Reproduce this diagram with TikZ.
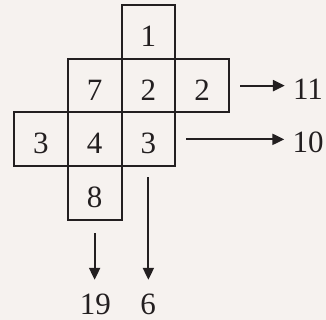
\documentclass[tikz,border=0pt]{standalone}
\usepackage{fontspec}
\setmainfont{Liberation Serif}
\usetikzlibrary{arrows.meta}
\definecolor{ink}{HTML}{231F20}
\definecolor{paper}{HTML}{F6F2EF}
\tikzset{
  cell/.style={draw=ink, line width=2pt, minimum size=53.75pt, inner sep=0pt,
    text=ink, text height=29pt, text depth=0pt, font=\fontsize{31}{36}\selectfont},
  total/.style={anchor=base, inner sep=0pt, text=ink, font=\fontsize{31}{36}\selectfont},
  sumarrow/.style={draw=ink, line width=2.2pt, -{Triangle[length=12pt,width=11pt]}}
}
\begin{document}
\begin{tikzpicture}[x=53.75pt,y=53.75pt]
  \fill[paper] (-14pt,5pt) rectangle (312pt,-315pt);
  \useasboundingbox (-14pt,5pt) rectangle (312pt,-315pt);
  % the cross of cells
  \foreach \r/\c/\v in {0/2/1, 1/1/7, 1/2/2, 1/3/2, 2/0/3, 2/1/4, 2/2/3, 3/1/8}
    \node[cell] (c\r\c) at (\c+0.5,-\r-0.5) {\v};
  % totals
  \node[total] (t11) at (5.47,-1.749) {11};
  \node[total] (t10) at (5.47,-2.753) {10};
  \node[total] (t19) at (1.516,-5.749) {19};
  \node[total] (t6) at (2.493,-5.749) {6};
  \draw[sumarrow, shorten <=10pt, shorten >=8pt] (c13.east) -- (c13.east -| t11.west);
  \draw[sumarrow, shorten <=10pt, shorten >=8pt] (c22.east) -- (c22.east -| t10.west);
  \draw[sumarrow, shorten <=12pt, shorten >=13.5pt] (c31.south) -- (c31.south |- t19.north);
  \draw[sumarrow, shorten <=10pt, shorten >=13.5pt] (c22.south) -- (c22.south |- t6.north);
\end{tikzpicture}
\end{document}
